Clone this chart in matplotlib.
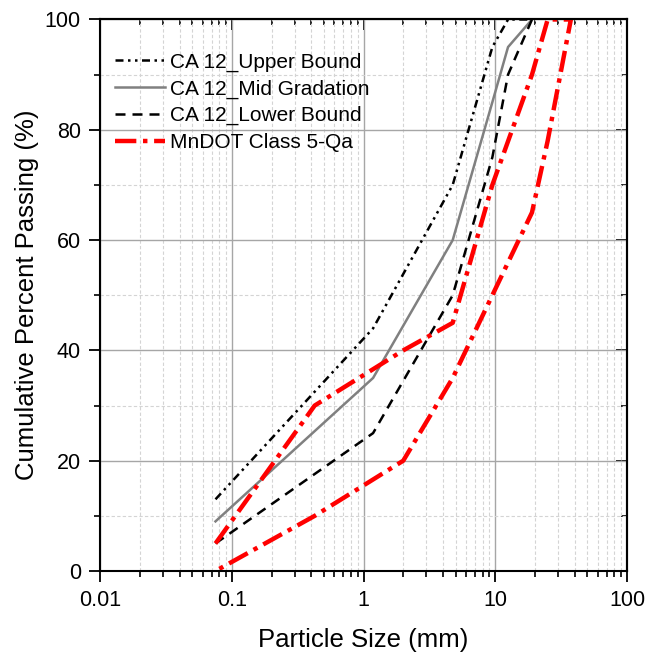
import matplotlib
matplotlib.use("Agg")
import matplotlib.pyplot as plt
from matplotlib.ticker import FixedLocator, LogLocator, FuncFormatter, NullFormatter

plt.rcParams['font.family'] = ['Liberation Sans', 'DejaVu Sans']

# CA 12 gradation band (sieve size in mm, percent passing)
ca12_sizes = [0.075, 1.18, 4.75, 9.5, 12.5, 19]
ca12_upper = [13, 44, 70, 95, 100, 100]
ca12_mid = [9, 35, 60, 85, 95, 100]
ca12_lower = [5, 25, 50, 75, 90, 100]

# MnDOT Class 5-Qa envelope
mn_sizes = [0.075, 0.425, 2.0, 4.75, 9.5, 19, 25, 37.5]
mn_upper = [5, 30, 40, 45, 70, 90, 100, 100]
mn_lower = [0, 10, 20, 35, 50, 65, 78, 100]

x_ticks = [0.01, 0.1, 1, 10, 100]
y_ticks = [0, 20, 40, 60, 80, 100]
y_minor = [10, 30, 50, 70, 90]

fig = plt.figure(figsize=(6.47, 6.58), dpi=100)
ax = fig.add_axes([0.155, 0.1322, 0.969 - 0.155, 0.9704 - 0.1322])

ax.set_xscale('log')
ax.set_xlim(0.01, 100)
ax.set_ylim(0, 100)

ax.plot(ca12_sizes, ca12_upper, color='black', lw=1.8,
        linestyle=(0, (3.2, 1.8, 1, 1.8, 1, 1.8)), label='CA 12_Upper Bound')
ax.plot(ca12_sizes, ca12_mid, color='#808080', lw=1.8, linestyle='-',
        label='CA 12_Mid Gradation')
ax.plot(ca12_sizes, ca12_lower, color='black', lw=1.8,
        linestyle=(0, (4.0, 2.8)), label='CA 12_Lower Bound')
mn_x = list(mn_sizes) + list(mn_sizes[::-1])
mn_y = list(mn_upper) + list(mn_lower[::-1])
ax.plot(mn_x, mn_y, color='#ff0000', lw=3.2,
        linestyle=(0, (4.8, 1.5, 1, 1.5)), label='MnDOT Class 5-Qa')

# ticks
ax.xaxis.set_major_locator(FixedLocator(x_ticks))
ax.xaxis.set_minor_locator(LogLocator(base=10, subs=range(2, 10), numticks=20))
ax.xaxis.set_major_formatter(FuncFormatter(lambda v, p: f'{v:g}'))
ax.xaxis.set_minor_formatter(NullFormatter())
ax.yaxis.set_major_locator(FixedLocator(y_ticks))
ax.yaxis.set_minor_locator(FixedLocator(y_minor))

ax.tick_params(axis='both', which='major', direction='out', length=8, width=1.3,
               labelsize=15.5, top=False, right=False)
ax.tick_params(axis='both', which='minor', direction='out', length=4, width=1.2,
               top=False, right=False)
ax.tick_params(axis='x', which='major', pad=6)
ax.tick_params(axis='y', which='major', pad=6)

secx = ax.secondary_xaxis('top')
secx.xaxis.set_major_locator(FixedLocator(x_ticks))
secx.xaxis.set_minor_locator(LogLocator(base=10, subs=range(2, 10), numticks=20))
secx.tick_params(which='major', direction='in', length=8, width=1.3, labeltop=False)
secx.tick_params(which='minor', direction='in', length=4, width=1.2)
secx.spines['top'].set_linewidth(1.5)

secy = ax.secondary_yaxis('right')
secy.yaxis.set_major_locator(FixedLocator(y_ticks))
secy.yaxis.set_minor_locator(FixedLocator(y_minor))
secy.tick_params(which='major', direction='in', length=8, width=1.3, labelright=False)
secy.tick_params(which='minor', direction='in', length=4, width=1.2)
secy.spines['right'].set_linewidth(1.5)

for s in ax.spines.values():
    s.set_linewidth(1.5)

ax.grid(True, which='major', color='#a6a6a6', lw=1.0, linestyle='-')
ax.grid(True, which='minor', color='#d4d4d4', lw=0.8, linestyle=(0, (3, 2)))
ax.set_axisbelow(True)

ax.set_xlabel('Particle Size (mm)', fontsize=18.5, labelpad=12)
ax.set_ylabel('Cumulative Percent Passing (%)', fontsize=18.5, labelpad=4)

leg = ax.legend(loc='upper left', bbox_to_anchor=(0.028, 0.94), borderaxespad=0,
                frameon=False, fontsize=15, handlelength=2.4, handletextpad=0.25,
                labelspacing=0.36, borderpad=0)

fig.savefig('out.png', dpi=100)
